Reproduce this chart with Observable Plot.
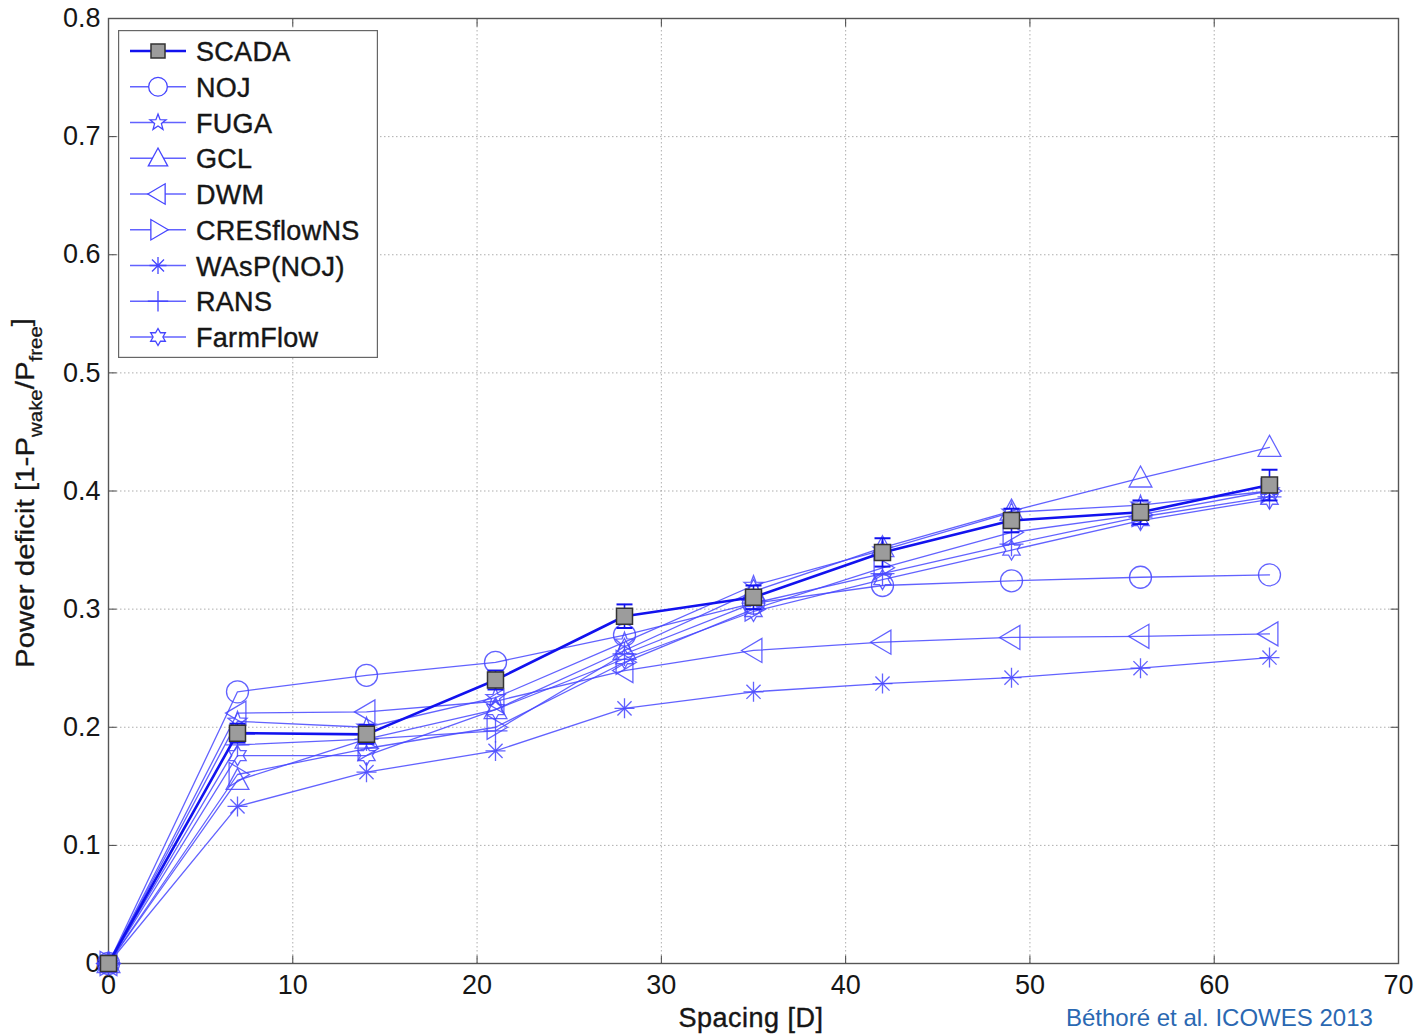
<!DOCTYPE html>
<html><head><meta charset="utf-8">
<script src="https://cdn.jsdelivr.net/npm/d3@7"></script>
<script src="https://cdn.jsdelivr.net/npm/@observablehq/plot@0.6"></script>
<style>
body{margin:0;background:#fff;font-family:"Liberation Sans",Arial,sans-serif;}
#wrap{position:relative;width:1416px;height:1034px;overflow:hidden;background:#fff;}
#chart{position:absolute;left:0;top:0;}
#legend{position:absolute;left:118px;top:30px;}
#caption{position:absolute;left:1066px;top:1006px;font-size:24px;line-height:24px;color:#2a68b2;white-space:nowrap;font-family:"Liberation Sans",Arial,sans-serif;}
</style></head><body>
<div id="wrap"><div id="chart"></div><div id="legend"></div><div id="caption">Béthoré et al. ICOWES 2013</div></div>
<script>
// ---- data ----
const spacing   = [0, 7, 14, 21, 28, 35, 42, 49, 56, 63];
const scada     = [0, 0.195, 0.194, 0.240, 0.294, 0.310, 0.348, 0.375, 0.382, 0.405];
const scadaErr  = [0, 0.008, 0.008, 0.008, 0.010, 0.010, 0.012, 0.010, 0.010, 0.013];
const noj       = [0, 0.230, 0.244, 0.255, 0.278, 0.305, 0.320, 0.324, 0.327, 0.329];
const fuga      = [0, 0.205, 0.200, 0.225, 0.272, 0.320, 0.350, 0.382, 0.388, 0.400];
const gcl       = [0, 0.155, 0.190, 0.215, 0.265, 0.315, 0.352, 0.383, 0.411, 0.437];
const dwm       = [0, 0.212, 0.213, 0.222, 0.248, 0.265, 0.272, 0.276, 0.277, 0.279];
const cresflow  = [0, 0.160, 0.182, 0.200, 0.255, 0.300, 0.335, 0.365, 0.380, 0.400];
const wasp      = [0, 0.133, 0.162, 0.180, 0.216, 0.230, 0.237, 0.242, 0.250, 0.259];
const rans      = [0, 0.185, 0.190, 0.197, 0.262, 0.305, 0.330, 0.355, 0.378, 0.395];
const farmflow  = [0, 0.176, 0.176, 0.215, 0.258, 0.298, 0.325, 0.350, 0.375, 0.393];
const seriesNames = ["SCADA","NOJ","FUGA","GCL","DWM","CRESflowNS","WAsP(NOJ)","RANS","FarmFlow"];
const xTicks = [0, 10, 20, 30, 40, 50, 60, 70];
const yTicks = [0, 0.1, 0.2, 0.3, 0.4, 0.5, 0.6, 0.7, 0.8];

// ---- symbols ----
const R = s => Math.sqrt(s / Math.PI);
const symTriUp = {draw(c,s){const r=R(s);c.moveTo(0,-r);c.lineTo(r*0.95,r*0.75);c.lineTo(-r*0.95,r*0.75);c.closePath();}};
const symTriLeft = {draw(c,s){const r=R(s);c.moveTo(-r,0);c.lineTo(r*0.7,-r);c.lineTo(r*0.7,r);c.closePath();}};
const symTriRight = {draw(c,s){const r=R(s);c.moveTo(r,0);c.lineTo(-r*0.7,-r);c.lineTo(-r*0.7,r);c.closePath();}};
const symStar = {draw(c,s){const r=R(s);for(let i=0;i<10;i++){const a=-Math.PI/2+i*Math.PI/5;const rr=i%2?r*0.42:r;const px=rr*Math.cos(a),py=rr*Math.sin(a);i?c.lineTo(px,py):c.moveTo(px,py);}c.closePath();}};
const symHexagram = {draw(c,s){const r=R(s);for(let i=0;i<12;i++){const a=-Math.PI/2+i*Math.PI/6;const rr=i%2?r*0.577:r;const px=rr*Math.cos(a),py=rr*Math.sin(a);i?c.lineTo(px,py):c.moveTo(px,py);}c.closePath();}};
const symAst = {draw(c,s){const r=R(s);for(let i=0;i<4;i++){const a=i*Math.PI/4;c.moveTo(r*Math.cos(a),r*Math.sin(a));c.lineTo(-r*Math.cos(a),-r*Math.sin(a));}}};
const symPlus = {draw(c,s){const r=R(s);c.moveTo(-r,0);c.lineTo(r,0);c.moveTo(0,-r);c.lineTo(0,r);}};
const symCircle = {draw(c,s){const r=R(s);c.moveTo(r,0);c.arc(0,0,r,0,2*Math.PI);}};
const symSquare = {draw(c,s){const r=R(s);c.rect(-r,-r,2*r,2*r);}};
const symHLine = {draw(c,s){const r=R(s);c.moveTo(-r,0);c.lineTo(r,0);}};
const tickUp = {draw(c){c.moveTo(0,0);c.lineTo(0,-8);}};
const tickDown = {draw(c){c.moveTo(0,0);c.lineTo(0,8);}};
const tickRight = {draw(c){c.moveTo(0,0);c.lineTo(8,0);}};
const tickLeft = {draw(c){c.moveTo(0,0);c.lineTo(-8,0);}};

const modelColor = "#4646ff";
const scadaColor = "#1212ee";
const textColor = "#161616";
const models = [
  {name:"NOJ", v:noj, sym:symCircle, r:11},
  {name:"FUGA", v:fuga, sym:symStar, r:10},
  {name:"GCL", v:gcl, sym:symTriUp, r:12},
  {name:"DWM", v:dwm, sym:symTriLeft, r:12},
  {name:"CRESflowNS", v:cresflow, sym:symTriRight, r:12},
  {name:"WAsP(NOJ)", v:wasp, sym:symAst, r:10},
  {name:"RANS", v:rans, sym:symPlus, r:12},
  {name:"FarmFlow", v:farmflow, sym:symHexagram, r:10}
];
const scadaRows = spacing.map((x,i)=>({x, y:scada[i], e:scadaErr[i]}));

const marks = [
  Plot.gridX(xTicks, {stroke:"#9a9a9a", strokeOpacity:0.8, strokeDasharray:"1.5,2.5"}),
  Plot.gridY(yTicks, {stroke:"#9a9a9a", strokeOpacity:0.8, strokeDasharray:"1.5,2.5"}),
  Plot.axisX(xTicks, {tickSize:0, tickPadding:11, fontSize:27, label:null, tickFormat:d=>String(d), fill:textColor, stroke:textColor, strokeWidth:0.4}),
  Plot.axisY(yTicks, {tickSize:0, tickPadding:8, fontSize:27, label:null, tickFormat:d3.format("~g"), fill:textColor, stroke:textColor, strokeWidth:0.4}),
  Plot.dot(xTicks, {x:d=>d, y:0, symbol:tickUp, r:3, stroke:"#444", strokeWidth:1}),
  Plot.dot(xTicks, {x:d=>d, y:0.8, symbol:tickDown, r:3, stroke:"#444", strokeWidth:1}),
  Plot.dot(yTicks, {x:0, y:d=>d, symbol:tickRight, r:3, stroke:"#444", strokeWidth:1}),
  Plot.dot(yTicks, {x:70, y:d=>d, symbol:tickLeft, r:3, stroke:"#444", strokeWidth:1}),
  Plot.frame({stroke:"#555", strokeWidth:1.4})
];
for (const m of models) {
  const rows = spacing.map((x,i)=>({x, y:m.v[i]}));
  marks.push(Plot.line(rows, {x:"x", y:"y", stroke:modelColor, strokeWidth:1.3, strokeOpacity:0.85}));
  marks.push(Plot.dot(rows, {x:"x", y:"y", symbol:m.sym, r:m.r, stroke:modelColor, strokeWidth:1.3, strokeOpacity:0.85, fill:"none"}));
}
marks.push(
  Plot.ruleX(scadaRows, {x:"x", y1:d=>d.y-d.e, y2:d=>d.y+d.e, stroke:scadaColor, strokeWidth:1.6}),
  Plot.dot(scadaRows, {x:"x", y:d=>d.y-d.e, symbol:symHLine, r:8, stroke:scadaColor, strokeWidth:2}),
  Plot.dot(scadaRows, {x:"x", y:d=>d.y+d.e, symbol:symHLine, r:8, stroke:scadaColor, strokeWidth:2}),
  Plot.line(scadaRows, {x:"x", y:"y", stroke:scadaColor, strokeWidth:2.6}),
  Plot.dot(scadaRows, {x:"x", y:"y", symbol:symSquare, r:8, stroke:"#333", strokeWidth:1.5, fill:"#9c9c9c"})
);

const svg = Plot.plot({
  width:1416, height:1034,
  marginTop:18, marginBottom:71, marginLeft:108, marginRight:18,
  style:{fontFamily:"'Liberation Sans', Arial, sans-serif", background:"white", overflow:"visible"},
  x:{domain:[0,70]}, y:{domain:[0,0.8]},
  marks
});
const s = d3.select(svg);
s.append("text").attr("x",751).attr("y",1027).attr("text-anchor","middle")
  .attr("font-size",27).attr("fill",textColor).attr("stroke",textColor).attr("stroke-width",0.4)
  .attr("letter-spacing",0.5).text("Spacing [D]");
const yl = s.append("text").attr("transform","translate(34,493) rotate(-90)")
  .attr("text-anchor","middle").attr("font-size",26).attr("fill",textColor)
  .attr("stroke",textColor).attr("stroke-width",0.3)
  .attr("textLength",350).attr("lengthAdjust","spacingAndGlyphs");
yl.append("tspan").text("Power deficit [1-P");
yl.append("tspan").attr("dy",8).attr("font-size",18).text("wake");
yl.append("tspan").attr("dy",-8).text("/P");
yl.append("tspan").attr("dy",8).attr("font-size",18).text("free");
yl.append("tspan").attr("dy",-12).text("]");
document.getElementById("chart").appendChild(svg);

// ---- legend ----
const lg = d3.select("#legend").append("svg").attr("width",260).attr("height",328);
lg.append("rect").attr("x",0.5).attr("y",0.5).attr("width",259).attr("height",327)
  .attr("fill","white").attr("stroke","#666").attr("stroke-width",1.4);
const legendItems = [{name:seriesNames[0], sym:symSquare, r:7, scada:true}, ...models.map(m=>({...m, r:m.r*0.85}))];
legendItems.forEach((m,i)=>{
  const cy = 21 + i*35.75;
  const g = lg.append("g").attr("transform",`translate(0,${cy})`);
  g.append("line").attr("x1",12).attr("x2",68).attr("stroke", m.scada?scadaColor:modelColor)
    .attr("stroke-width", m.scada?2.6:1.3).attr("stroke-opacity", m.scada?1:0.85);
  g.append("path").attr("transform","translate(40,0)")
    .attr("d", d3.symbol().type(m.sym).size(m.r*m.r*Math.PI)())
    .attr("fill", m.scada?"#9c9c9c":"white").attr("stroke", m.scada?"#333":modelColor)
    .attr("stroke-width", m.scada?1.5:1.3);
  g.append("text").attr("x",78).attr("y",10).attr("font-size",27).attr("fill",textColor)
    .attr("stroke",textColor).attr("stroke-width",0.4).attr("letter-spacing",0.3)
    .attr("font-family","'Liberation Sans', Arial, sans-serif").text(m.name);
});
</script>
</body></html>
